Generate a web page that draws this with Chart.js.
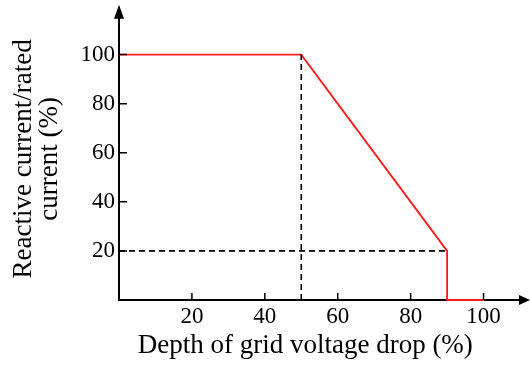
<!DOCTYPE html>
<html>
<head>
<meta charset="utf-8">
<script src="https://cdn.jsdelivr.net/npm/chart.js@4/dist/chart.umd.min.js"></script>
<style>
  body { margin: 0; background: #fff; }
  #box { width: 530px; height: 365px; }
</style>
</head>
<body>
<div id="box"><canvas id="myChart"></canvas></div>
<script>
"use strict"
// Kennlinie (rot)
const curveX = [0, 50, 90, 90, 100];
const curveY = [100, 100, 20, 0, 0];
// gestrichelte Hilfslinien
const vLineX = [50, 50];
const vLineY = [0, 100];
const hLineX = [0, 90];
const hLineY = [20, 20];
// Achsenbeschriftung
const xTicks = [20, 40, 60, 80, 100];
const yTicks = [20, 40, 60, 80, 100];
const xTitle = 'Depth of grid voltage drop (%)';
const yTitle = ['Reactive current/rated', 'current (%)'];

const serif = "'Liberation Serif', 'Times New Roman', serif";

function toPoints(xs, ys) {
    return xs.map((x, i) => ({ x: x, y: ys[i] }));
}

// Ticks nach innen, Pfeilspitzen und x-Titel
const axisDeco = {
    id: 'axisDeco',
    afterDraw(chart) {
        const ctx = chart.ctx;
        const xs = chart.scales.x, ys = chart.scales.y;
        const left = xs.left, bottom = ys.bottom;
        ctx.save();
        ctx.strokeStyle = '#000';
        ctx.lineWidth = 1.5;
        ctx.beginPath();
        xTicks.forEach(v => {
            const px = xs.getPixelForValue(v);
            ctx.moveTo(px, bottom);
            ctx.lineTo(px, bottom - 7);
        });
        yTicks.forEach(v => {
            const py = ys.getPixelForValue(v);
            ctx.moveTo(left, py);
            ctx.lineTo(left + 8, py);
        });
        ctx.stroke();
        // Pfeile
        ctx.fillStyle = '#000';
        ctx.beginPath();
        ctx.moveTo(left - 5, ys.top + 1);
        ctx.lineTo(left, ys.top - 13);
        ctx.lineTo(left + 5, ys.top + 1);
        ctx.closePath();
        ctx.fill();
        ctx.beginPath();
        ctx.moveTo(xs.right - 1, bottom - 5);
        ctx.lineTo(xs.right + 10, bottom);
        ctx.lineTo(xs.right - 1, bottom + 5);
        ctx.closePath();
        ctx.fill();
        // x-Achsentitel (etwas links von der Mitte, wie im Original)
        ctx.font = '27px ' + serif;
        ctx.textAlign = 'center';
        ctx.textBaseline = 'alphabetic';
        ctx.fillText(xTitle, xs.getPixelForValue(50) + 4, chart.height - 12);
        ctx.restore();
    }
};

const config = {
    type: 'line',
    data: {
        datasets: [
            { data: toPoints(vLineX, vLineY), borderColor: '#000', borderWidth: 1.6, borderDash: [6, 4], pointRadius: 0, clip: false },
            { data: toPoints(hLineX, hLineY), borderColor: '#000', borderWidth: 1.6, borderDash: [6, 4], pointRadius: 0, clip: false },
            { data: toPoints(curveX, curveY), borderColor: '#ff1a1a', borderWidth: 1.8, pointRadius: 0, tension: 0, clip: false }
        ]
    },
    options: {
        responsive: true,
        maintainAspectRatio: false,
        animation: false,
        layout: { padding: { left: 0, top: 16, right: 10, bottom: 0 } },
        plugins: { legend: { display: false }, tooltip: { enabled: false } },
        scales: {
            x: {
                type: 'linear',
                min: 0,
                max: 110,
                grid: { display: false, drawTicks: false },
                border: { color: '#000', width: 2 },
                afterBuildTicks: s => { s.ticks = xTicks.map(v => ({ value: v })); },
                afterFit: s => { s.height = 65; },
                ticks: { color: '#000', padding: 3, font: { family: serif, size: 23 } }
            },
            y: {
                type: 'linear',
                min: 0,
                max: 115,
                grid: { display: false, drawTicks: false },
                border: { color: '#000', width: 2 },
                afterBuildTicks: s => { s.ticks = yTicks.map(v => ({ value: v })); },
                afterFit: s => { s.width = 119; },
                ticks: { color: '#000', padding: 4, font: { family: serif, size: 23 } },
                title: {
                    display: true,
                    text: yTitle,
                    color: '#000',
                    padding: { top: 11, bottom: 0 },
                    font: { family: serif, size: 27, lineHeight: 0.95 }
                }
            }
        }
    },
    plugins: [axisDeco]
};

new Chart(document.getElementById('myChart'), config);
</script>
</body>
</html>
